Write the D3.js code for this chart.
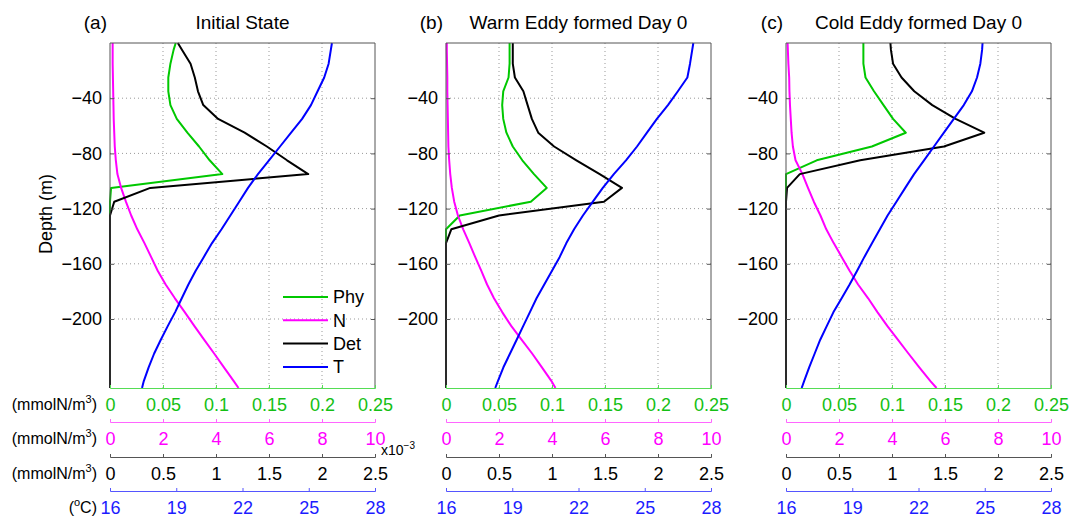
<!DOCTYPE html>
<html>
<head>
<meta charset="utf-8">
<script src="https://cdn.jsdelivr.net/npm/d3@7"></script>
<style>
body { margin: 0; background: #fff; }
svg { font-family: "Liberation Sans", Arial, sans-serif; }
</style>
</head>
<body>
<svg></svg>
<script>
var width = 1083;
var height = 517;

// model levels (m)
var depth = [0, -5, -15, -25, -35, -45, -55, -65, -75, -85, -95, -105, -115, -125, -135,
  -145, -155, -165, -175, -185, -195, -205, -215, -225, -235, -245, -250];

// (a) Initial State
var phyA = [0.062, 0.060, 0.057, 0.055, 0.055, 0.057, 0.063, 0.073, 0.084, 0.094, 0.106, 0.001, 0,
  0, 0, 0, 0, 0, 0, 0, 0, 0, 0, 0, 0, 0, 0];
var nA = [0.10, 0.10, 0.10, 0.11, 0.12, 0.13, 0.14, 0.16, 0.18, 0.22, 0.28, 0.42, 0.60, 0.80, 1.03,
  1.30, 1.55, 1.80, 2.10, 2.45, 2.82, 3.18, 3.55, 3.93, 4.30, 4.67, 4.85];
var detA = [0.64, 0.68, 0.76, 0.80, 0.83, 0.88, 1.02, 1.27, 1.48, 1.67, 1.87, 0.38, 0.04, 0,
  0, 0, 0, 0, 0, 0, 0, 0, 0, 0, 0, 0, 0];
var tA = [26.05, 26.0, 25.9, 25.7, 25.4, 25.1, 24.7, 24.2, 23.7, 23.2, 22.7, 22.25, 21.85, 21.45, 21.05,
  20.62, 20.25, 19.88, 19.55, 19.25, 18.95, 18.62, 18.3, 18.0, 17.75, 17.53, 17.45];

// (b) Warm Eddy formed Day 0
var phyB = [0.060, 0.060, 0.060, 0.059, 0.054, 0.053, 0.054, 0.057, 0.063, 0.072, 0.083, 0.095, 0.080,
  0.013, 0, 0, 0, 0, 0, 0, 0, 0, 0, 0, 0, 0, 0];
var nB = [0.03, 0.03, 0.04, 0.05, 0.05, 0.06, 0.07, 0.08, 0.09, 0.12, 0.16, 0.22, 0.31, 0.45, 0.65,
  0.88, 1.10, 1.33, 1.55, 1.81, 2.12, 2.46, 2.85, 3.25, 3.62, 3.98, 4.13];
var detB = [0.63, 0.63, 0.63, 0.65, 0.73, 0.77, 0.81, 0.87, 1.02, 1.23, 1.45, 1.66, 1.49, 0.50, 0.05,
  0, 0, 0, 0, 0, 0, 0, 0, 0, 0, 0, 0];
var tB = [27.2, 27.15, 27.05, 26.93, 26.5, 26.05, 25.55, 25.1, 24.65, 24.15, 23.6, 23.1, 22.65, 22.2, 21.8,
  21.45, 21.15, 20.8, 20.45, 20.1, 19.8, 19.5, 19.2, 18.9, 18.6, 18.35, 18.23];

// (c) Cold Eddy formed Day 0
var phyC = [0.073, 0.073, 0.073, 0.075, 0.083, 0.092, 0.101, 0.113, 0.081, 0.029, 0, 0, 0,
  0, 0, 0, 0, 0, 0, 0, 0, 0, 0, 0, 0, 0, 0];
var nC = [0.06, 0.07, 0.09, 0.12, 0.13, 0.15, 0.18, 0.21, 0.26, 0.36, 0.62, 0.83, 1.05, 1.30, 1.52,
  1.80, 2.10, 2.40, 2.72, 3.10, 3.45, 3.82, 4.22, 4.62, 5.03, 5.45, 5.68];
var detC = [0.985, 0.99, 1.01, 1.09, 1.21, 1.38, 1.60, 1.87, 1.49, 0.70, 0.13, 0.01, 0,
  0, 0, 0, 0, 0, 0, 0, 0, 0, 0, 0, 0, 0, 0];
var tC = [24.9, 24.88, 24.8, 24.65, 24.42, 24.05, 23.6, 23.15, 22.7, 22.25, 21.8, 21.4, 21.0, 20.6, 20.25,
  19.9, 19.55, 19.22, 18.88, 18.52, 18.15, 17.85, 17.55, 17.3, 17.05, 16.82, 16.71];

var panelIds = ['(a)', '(b)', '(c)'];
var panelTitles = ['Initial State', 'Warm Eddy formed Day 0', 'Cold Eddy formed Day 0'];
var seriesNames = ['Phy', 'N', 'Det', 'T'];

var depthTicks = [-40, -80, -120, -160, -200];
var phyTicks = [0, 0.05, 0.1, 0.15, 0.2, 0.25];
var nTicks = [0, 2, 4, 6, 8, 10];
var detTicks = [0, 0.5, 1, 1.5, 2, 2.5];   // x10^-3
var tTicks = [16, 19, 22, 25, 28];
var unitLabels = ['mmolN/m', 'mmolN/m', 'mmolN/m', 'C'];

var panelData = [
  [phyA, nA, detA, tA],
  [phyB, nB, detB, tB],
  [phyC, nC, detC, tC]
];

var panelLeft = [110, 446, 786];
var pw = 265;
var plotTop = 43, plotBottom = 388;
var colors = ['#00c800', '#ff00ff', '#000000', '#0000ff'];
var labelColors = ['#14c014', '#ff00ff', '#000000', '#1c1cff'];
var axisColors = ['#55dd55', '#ff66ff', '#555555', '#5555ff'];
var axisY = [388, 422, 457, 491];

var y = d3.scaleLinear().domain([-250, 0]).range([plotBottom, plotTop]);
var xs = [
  d3.scaleLinear().domain([0, 0.25]).range([0, pw]),
  d3.scaleLinear().domain([0, 10]).range([0, pw]),
  d3.scaleLinear().domain([0, 2.5]).range([0, pw]),
  d3.scaleLinear().domain([16, 28]).range([0, pw])
];
var tickSets = [phyTicks, nTicks, detTicks, tTicks];

const svg = d3.select('svg')
  .attr('width', width)
  .attr('height', height);

panelData.forEach(function (series, p) {
  const g = svg.append('g').attr('transform', `translate(${panelLeft[p]},0)`);

  // grid
  g.selectAll('.vgrid')
    .data(phyTicks.slice(1, -1))
    .join('line')
    .attr('x1', d => xs[0](d)).attr('x2', d => xs[0](d))
    .attr('y1', plotTop).attr('y2', plotBottom)
    .attr('stroke', '#999').attr('stroke-dasharray', '1,3');
  g.selectAll('.hgrid')
    .data(depthTicks)
    .join('line')
    .attr('x1', 0).attr('x2', pw)
    .attr('y1', d => y(d)).attr('y2', d => y(d))
    .attr('stroke', '#999').attr('stroke-dasharray', '1,3');

  // profiles
  series.forEach(function (vals, s) {
    const line = d3.line()
      .x((d, i) => xs[s](d))
      .y((d, i) => y(depth[i]));
    g.append('path')
      .attr('d', line(vals))
      .attr('fill', 'none')
      .attr('stroke', colors[s])
      .attr('stroke-width', 2)
      .attr('stroke-linejoin', 'round');
  });

  // box
  g.append('path')
    .attr('d', `M0,${plotBottom}V${plotTop}H${pw}V${plotBottom}`)
    .attr('fill', 'none')
    .attr('stroke', '#555');

  const yAxis = d3.axisLeft(y).tickValues(depthTicks).tickSize(-4).tickPadding(8);
  g.append('g')
    .call(yAxis)
    .call(a => a.select('.domain').remove())
    .call(a => a.selectAll('line').attr('stroke', '#555'))
    .call(a => a.selectAll('text').attr('font-size', 18).attr('fill', '#000'));
  g.append('g')
    .attr('transform', `translate(${pw},0)`)
    .call(d3.axisRight(y).tickValues(depthTicks).tickSize(-4).tickFormat(''))
    .call(a => a.select('.domain').remove())
    .call(a => a.selectAll('line').attr('stroke', '#555'));

  // stacked bottom axes
  xs.forEach(function (x, s) {
    const ax = d3.axisBottom(x).tickValues(tickSets[s])
      .tickSizeInner(-3).tickSizeOuter(-3).tickPadding(10)
      .tickFormat(d => String(d));
    g.append('g')
      .attr('transform', `translate(0,${axisY[s]})`)
      .call(ax)
      .call(a => a.selectAll('path, line').attr('stroke', axisColors[s]))
      .call(a => a.selectAll('text').attr('font-size', 18).attr('fill', labelColors[s]));
  });

  // titles
  g.append('text')
    .attr('x', -3).attr('y', 29)
    .attr('text-anchor', 'end')
    .attr('font-size', 19)
    .text(panelIds[p]);
  g.append('text')
    .attr('x', pw / 2).attr('y', 29)
    .attr('text-anchor', 'middle')
    .attr('font-size', 19)
    .text(panelTitles[p]);
});

// unit labels left of the bottom axes
unitLabels.forEach(function (u, s) {
  const t = svg.append('text')
    .attr('x', 97).attr('y', axisY[s] + 22)
    .attr('text-anchor', 'end')
    .attr('font-size', 16);
  if (s < 3) {
    t.append('tspan').text('(' + u);
    t.append('tspan').attr('dy', -7).attr('font-size', 11).text('3');
    t.append('tspan').attr('dy', 7).text(')');
  } else {
    t.append('tspan').text('(');
    t.append('tspan').attr('dy', -7).attr('font-size', 11).text('o');
    t.append('tspan').attr('dy', 7).text('C)');
  }
});

// exponent for the Det axis
const ex = svg.append('text')
  .attr('x', 381).attr('y', 455)
  .attr('font-size', 14);
ex.append('tspan').text('x10');
ex.append('tspan').attr('dy', -6).attr('font-size', 10).text('\u22123');

svg.append('text')
  .attr('transform', 'translate(52,214) rotate(-90)')
  .attr('text-anchor', 'middle')
  .attr('font-size', 18)
  .text('Depth (m)');

// legend
const legend = svg.append('g').attr('transform', 'translate(283,297)');
seriesNames.forEach(function (name, s) {
  legend.append('line')
    .attr('x1', 0).attr('x2', 45)
    .attr('y1', s * 23.3).attr('y2', s * 23.3)
    .attr('stroke', colors[s]).attr('stroke-width', 2);
  legend.append('text')
    .attr('x', 50).attr('y', s * 23.3)
    .attr('dy', '0.35em')
    .attr('font-size', 18)
    .text(name);
});
</script>
</body>
</html>
